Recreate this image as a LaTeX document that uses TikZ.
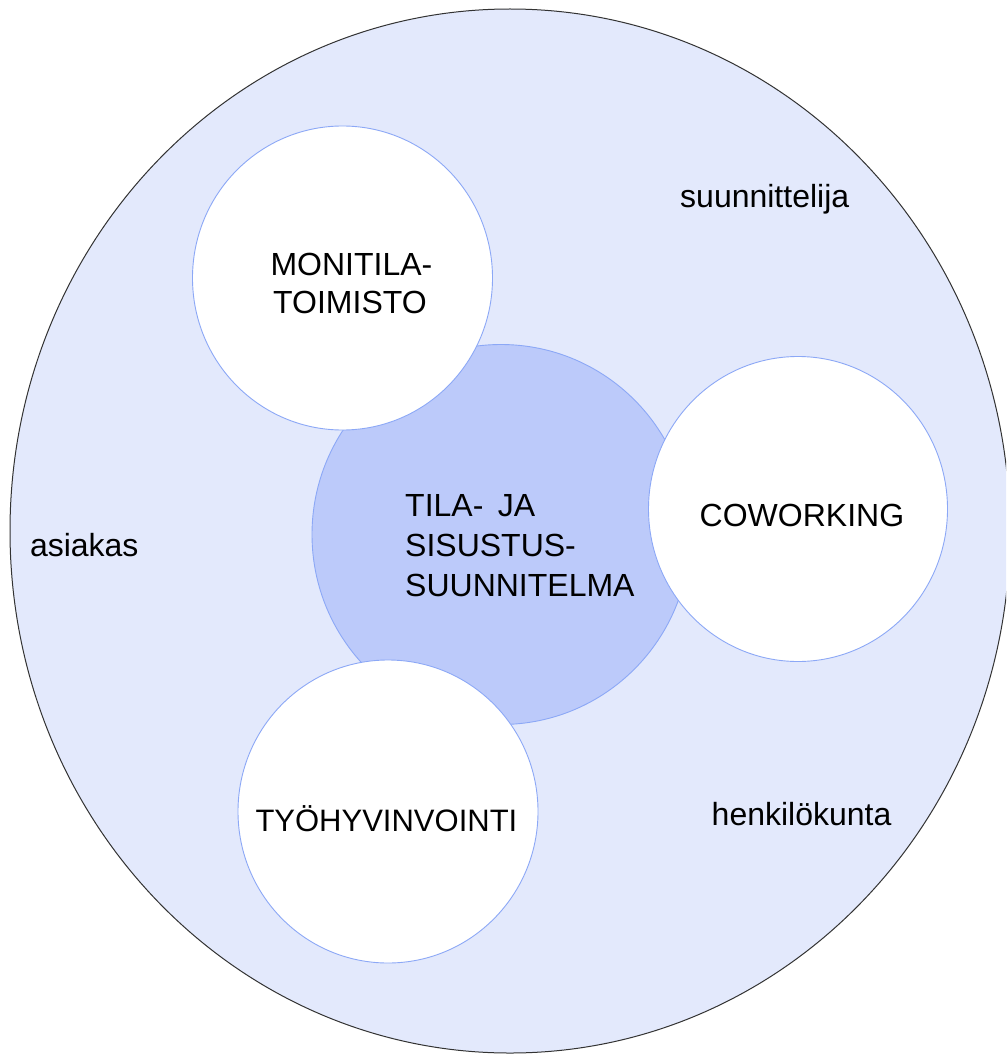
\documentclass[tikz,border=0pt]{standalone}
\usepackage{fontspec}
\setmainfont{Liberation Sans}
\usetikzlibrary{shapes.geometric}
\definecolor{outerfill}{RGB}{227,233,252}
\definecolor{corefill}{RGB}{188,202,250}
\definecolor{ringline}{RGB}{140,168,246}
\begin{document}
\begin{tikzpicture}[x=1pt,y=-1pt,
  blob/.style={ellipse, inner sep=0pt, draw=ringline, line width=0.9pt},
  lbl/.style={anchor=base west, inner sep=0pt, text=black, font=\fontsize{32pt}{39pt}\selectfont}]
\useasboundingbox (0,0) rectangle (1006,1054);
\clip (0,0) rectangle (1006,1054);
\fill[white] (0,0) rectangle (1006,1054);
\node[ellipse, draw=black!80, line width=1pt, fill=outerfill, inner sep=0pt,
      minimum width=1000pt, minimum height=1044pt] (outer) at (510,531) {};
\node[blob, fill=corefill, minimum width=378pt, minimum height=380pt] (core) at (501,534.5) {};
\node[blob, fill=white, minimum width=300pt, minimum height=304pt] (moni) at (342.5,278) {};
\node[blob, fill=white, minimum width=299pt, minimum height=305pt] (cowo) at (798,509) {};
\node[blob, fill=white, minimum width=300pt, minimum height=303pt] (tyo) at (388,811.5) {};
% labels
\node[lbl] (moniA) at (270.3,275) {MONITILA-};
\node[lbl] (moniB) at (273,313.3) {TOIMISTO};
\node[lbl] (coreA) at (405,516.7) {TILA-\hspace{0.45em}JA};
\node[lbl] (coreB) at (405,556.7) {SISUSTUS-};
\node[lbl] (coreC) at (405,596.7) {SUUNNITELMA};
\node[lbl] (cowoT) at (699.5,526) {COWORKING};
\node[lbl, font=\fontsize{31pt}{38pt}\selectfont] (tyoT) at (255.3,831.7) {TYÖHYVINVOINTI};
\node[lbl] (suun) at (680,207.3) {suunnittelija};
\node[lbl] (henk) at (711.5,825) {henkilökunta};
\node[lbl] (asia) at (29.8,556.7) {asiakas};
\end{tikzpicture}
\end{document}
